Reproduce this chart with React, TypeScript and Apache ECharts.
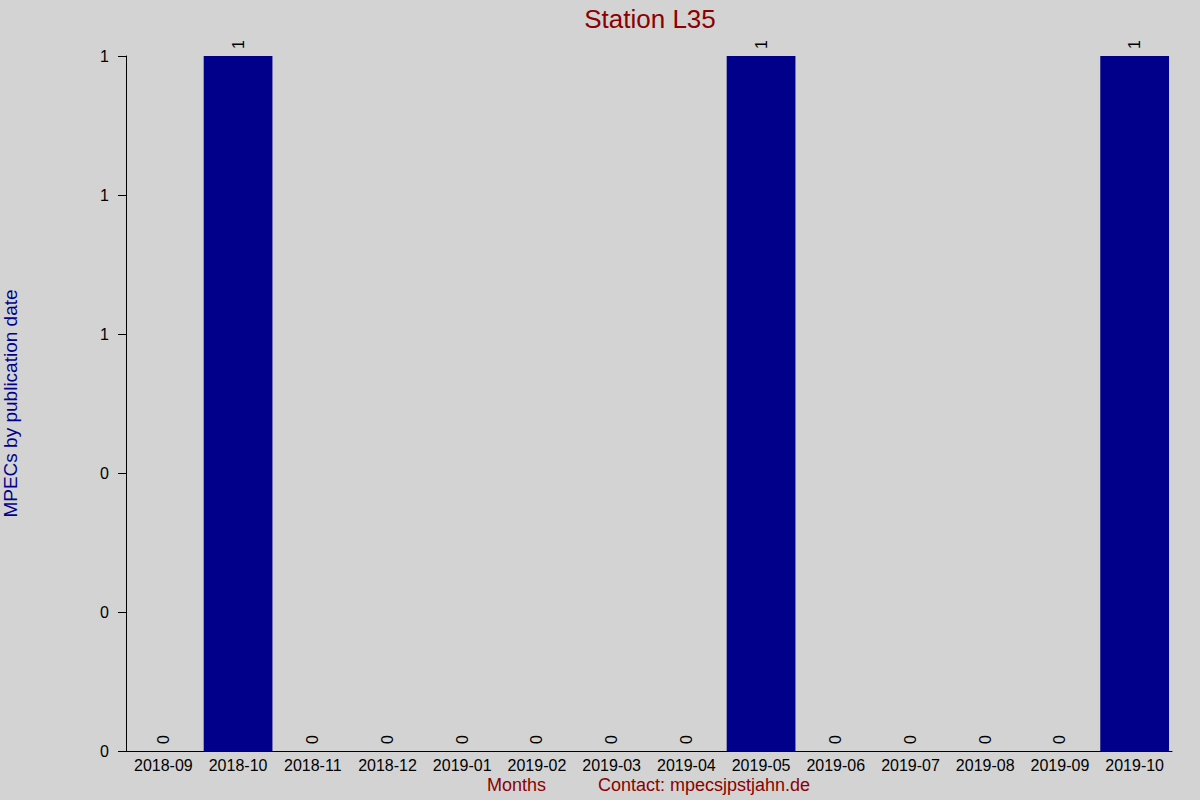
import React, { useEffect, useRef } from "react";
import * as echarts from "echarts";

const months = [
  "2018-09", "2018-10", "2018-11", "2018-12", "2019-01", "2019-02", "2019-03",
  "2019-04", "2019-05", "2019-06", "2019-07", "2019-08", "2019-09", "2019-10",
];
const mpecCounts = [0, 1, 0, 0, 0, 0, 0, 0, 1, 0, 0, 0, 0, 1];
const titleText = "Station L35";
const yAxisName = "MPECs by publication date";
const xAxisName = "Months";
const contactText = "Contact: mpecsjpstjahn.de";

const FONT = "'Liberation Sans', Arial, sans-serif";

export default function App() {
  const ref = useRef<HTMLDivElement>(null);
  useEffect(() => {
    if (!ref.current) return;
    const chart = echarts.init(ref.current, undefined, { renderer: "svg" });
    chart.setOption({
      animation: false,
      backgroundColor: "#d3d3d3",
      textStyle: { fontFamily: FONT },
      title: {
        text: titleText,
        left: 645,
        top: 1,
        textAlign: "center",
        textStyle: { color: "#8b0000", fontSize: 26, fontWeight: "normal", fontFamily: FONT },
      },
      grid: { left: 126, right: 28, top: 56, bottom: 49, containLabel: false, outerBoundsMode: "none" },
      xAxis: {
        type: "category",
        data: months,
        axisLine: { show: true, lineStyle: { color: "#000", width: 1 } },
        axisTick: { show: false },
        axisLabel: { color: "#000", fontSize: 16, margin: 6, fontFamily: FONT, interval: 0 },
        splitLine: { show: false },
      },
      yAxis: {
        type: "value",
        min: 0,
        max: 1,
        interval: 0.2,
        name: yAxisName,
        nameLocation: "middle",
        nameGap: 106,
        nameTextStyle: { color: "#00008b", fontSize: 19, fontFamily: FONT },
        axisLine: { show: true, lineStyle: { color: "#000", width: 1 } },
        axisTick: { show: true, length: 8, lineStyle: { color: "#000" } },
        axisLabel: {
          color: "#000",
          fontSize: 16,
          margin: 17,
          fontFamily: FONT,
          formatter: (v: number) => String(Math.round(v)),
        },
        splitLine: { show: false },
      },
      series: [
        {
          type: "bar",
          data: mpecCounts,
          barCategoryGap: "8%",
          itemStyle: { color: "#00008b" },
          label: {
            show: true,
            position: "top",
            rotate: 90,
            align: "left",
            verticalAlign: "middle",
            distance: 7,
            color: "#000",
            fontSize: 16,
            fontFamily: FONT,
          },
        },
      ],
      graphic: [
        {
          type: "text",
          left: 487,
          top: 776,
          style: { text: xAxisName, fill: "#8b0000", fontSize: 18, fontFamily: FONT },
        },
        {
          type: "text",
          left: 598,
          top: 776,
          style: { text: contactText, fill: "#8b0000", fontSize: 18, fontFamily: FONT },
        },
      ],
    });
    return () => chart.dispose();
  }, []);
  return <div ref={ref} style={{ width: 1200, height: 800, position: "absolute", left: 0, top: 0 }} />;
}
